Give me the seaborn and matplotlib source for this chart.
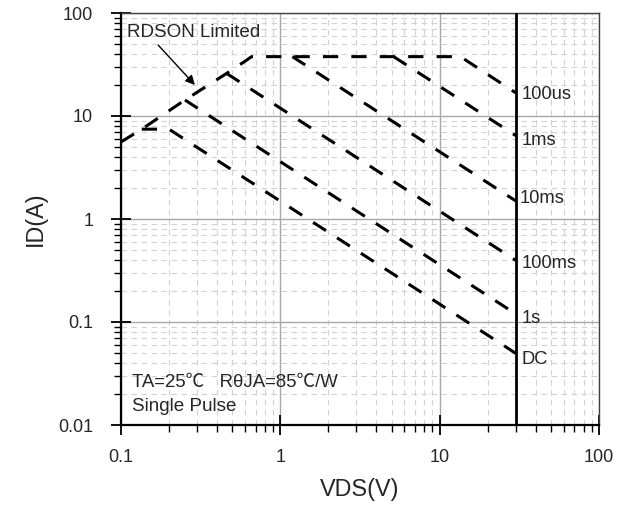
import matplotlib
matplotlib.use("Agg")
import matplotlib.pyplot as plt
from matplotlib.ticker import FixedLocator, LogLocator, NullFormatter, FuncFormatter
import seaborn as sns
import pandas as pd

# ---- data ----
curve_names = ["100us", "1ms", "10ms", "100ms", "1s", "DC"]
vds_100us = [0.1, 0.135, 0.252, 0.46, 0.6, 0.66, 13.5, 30]
id_100us = [5.6, 7.45, 14.3, 25.9, 34.0, 37.7, 37.7, 16.8]
vds_1ms = [5.14, 30]
id_1ms = [37.7, 6.46]
vds_10ms = [1.19, 30]
id_10ms = [37.7, 1.50]
vds_100ms = [0.46, 30]
id_100ms = [25.9, 0.397]
vds_1s = [0.252, 30]
id_1s = [14.3, 0.12]
vds_dc = [0.135, 0.2, 30]
id_dc = [7.45, 7.45, 0.0497]

label_x = [32.8, 32.9, 31.7, 32.6, 32.6, 32.6]
label_y = [16.0, 5.75, 1.58, 0.372, 0.109, 0.0437]

vds_limit = 30
x_ticks = [0.1, 1, 10, 100]
y_ticks = [0.01, 0.1, 1, 10, 100]

frames = []
for name, xs, ys in zip(curve_names,
                        [vds_100us, vds_1ms, vds_10ms, vds_100ms, vds_1s, vds_dc],
                        [id_100us, id_1ms, id_10ms, id_100ms, id_1s, id_dc]):
    frames.append(pd.DataFrame({"VDS": xs, "ID": ys, "curve": name,
                                "order": range(len(xs))}))
df = pd.concat(frames, ignore_index=True)

sns.set_style("white")
plt.rcParams["font.family"] = ["Liberation Sans", "Noto Sans CJK SC", "DejaVu Sans"]

fig = plt.figure(figsize=(6.34, 5.14), dpi=100)
ax = fig.add_axes([121 / 634, 1 - 425 / 514, 478 / 634, 412 / 514])

ax.set_xscale("log")
ax.set_yscale("log")
ax.set_xlim(0.1, 100)
ax.set_ylim(0.01, 100)

# grid
ax.grid(which="major", color="#a8a8a8", lw=1.0, ls="-")
ax.grid(which="minor", color="#d2d2d2", lw=0.8, ls=(0, (5, 4)))
ax.set_axisbelow(True)

for name in curve_names:
    sub = df[df["curve"] == name]
    sns.lineplot(data=sub, x="VDS", y="ID", sort=False, estimator=None,
                 color="black", lw=2.2, ax=ax)
for ln in ax.get_lines():
    ln.set_linestyle((0, (5, 4.3)))
    ln.set_dash_capstyle("butt")

ax.axvline(vds_limit, color="black", lw=2.0, zorder=5)

for name, lx, ly in zip(curve_names, label_x, label_y):
    ax.text(lx, ly, name, fontsize=13.2, ha="left", va="center")

ax.text(0.0126, 0.9425, "RDSON Limited", transform=ax.transAxes,
        fontsize=13.6, ha="left", va="baseline")
ax.annotate("", xy=(0.291, 20.0), xytext=(0.171, 48.9),
            arrowprops=dict(arrowstyle="-|>", color="black", lw=1.0,
                            mutation_scale=14, shrinkA=0, shrinkB=0))
ax.text(0.0224, 0.093, "TA=25℃   RθJA=85℃/W", transform=ax.transAxes,
        fontsize=13.4, ha="left", va="baseline")
ax.text(0.0224, 0.0347, "Single Pulse", transform=ax.transAxes,
        fontsize=13.6, ha="left", va="baseline")

# ticks
ax.xaxis.set_major_locator(FixedLocator(x_ticks))
ax.yaxis.set_major_locator(FixedLocator(y_ticks))
ax.xaxis.set_minor_locator(LogLocator(base=10, subs=range(2, 10), numticks=20))
ax.yaxis.set_minor_locator(LogLocator(base=10, subs=range(2, 10), numticks=20))
fmt = FuncFormatter(lambda v, p: "%g" % v)
ax.xaxis.set_major_formatter(fmt)
ax.yaxis.set_major_formatter(fmt)
ax.xaxis.set_minor_formatter(NullFormatter())
ax.yaxis.set_minor_formatter(NullFormatter())
ax.tick_params(which="major", direction="inout", length=14, width=1.3,
               color="black", labelsize=13, bottom=True, left=True)
ax.tick_params(axis="x", which="major", pad=10)
ax.tick_params(axis="y", which="major", pad=13)
ax.tick_params(which="minor", direction="out", length=5, width=1.0,
               color="black", bottom=True, left=True)

for side in ["left", "bottom"]:
    ax.spines[side].set_color("black")
    ax.spines[side].set_linewidth(1.6)
for side in ["top", "right"]:
    ax.spines[side].set_color("#404040")
    ax.spines[side].set_linewidth(1.0)

ax.set_xlabel("VDS(V)", fontsize=16.8, labelpad=9)
ax.set_ylabel("ID(A)", fontsize=16.8, labelpad=8)

fig.savefig("out.png", dpi=100)
